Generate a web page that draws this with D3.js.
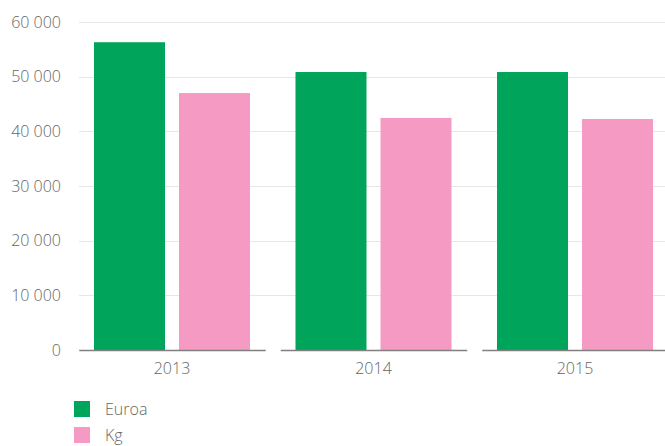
<!DOCTYPE html>
<html><head><meta charset="utf-8">
<script src="https://cdn.jsdelivr.net/npm/d3@7"></script>
<style>body{margin:0;background:#fff}svg{display:block}text{font-family:"Open Sans",sans-serif;font-weight:300;fill:#666}</style>
</head><body>
<script>
const categories = ["2013","2014","2015"];
const seriesNames = ["Euroa","Kg"];
const euroa = [56300, 50850, 50850];
const kg = [47000, 42450, 42250];
const yTicks = [0,10000,20000,30000,40000,50000,60000];
const colors = ["#00a45a","#f49ac3"];

const W=665,H=446;
const svg=d3.select("body").append("svg").attr("width",W).attr("height",H);
const y=d3.scaleLinear().domain([0,60000]).range([350,22]);
const x0=d3.scaleBand().domain(categories).range([71.25,675.75]).padding(0);
const x1=d3.scaleBand().domain(seriesNames).range([22.75,178.75]).paddingInner(0.165).paddingOuter(0);
const fmt=v=>d3.format(",")(v).replace(/,/g," ");

// grid
svg.append("g").selectAll("line").data(yTicks.filter(t=>t>0)).join("line")
  .attr("x1",79).attr("x2",W).attr("y1",d=>Math.round(y(d))+0.5).attr("y2",d=>Math.round(y(d))+0.5)
  .attr("stroke","#e6e6e6").attr("stroke-width",1);
svg.append("g").selectAll("text").data(yTicks).join("text")
  .attr("x",61).attr("y",d=>y(d)).attr("dy","0.35em").attr("text-anchor","end")
  .attr("font-size",16).text(fmt);

// bars
const data=categories.map((c,i)=>({c,vals:[euroa[i],kg[i]]}));
const g=svg.append("g").selectAll("g").data(data).join("g").attr("transform",d=>`translate(${x0(d.c)},0)`);
g.selectAll("rect").data(d=>d.vals.map((v,j)=>({name:seriesNames[j],v,j}))).join("rect")
  .attr("x",d=>x1(d.name)).attr("width",x1.bandwidth())
  .attr("y",d=>y(d.v)).attr("height",d=>y(0)-y(d.v)).attr("fill",d=>colors[d.j]);

// baseline segments
svg.append("g").selectAll("line").data(categories).join("line")
  .attr("x1",d=>x0(d)+8).attr("x2",d=>x0(d)+x0.bandwidth()-7)
  .attr("y1",350.5).attr("y2",350.5).attr("stroke","#808080").attr("stroke-width",1.5);
svg.append("g").selectAll("text").data(categories).join("text")
  .attr("x",d=>x0(d)+x0.bandwidth()/2).attr("y",374).attr("text-anchor","middle")
  .attr("font-size",16).text(d=>d);

// legend
const lg=svg.append("g").selectAll("g").data(seriesNames).join("g")
  .attr("transform",(d,i)=>`translate(74,${401+i*26})`);
lg.append("rect").attr("width",16).attr("height",16).attr("fill",(d,i)=>colors[i]);
lg.append("text").attr("x",31).attr("y",8).attr("dy","0.35em").attr("font-size",16).text(d=>d);
</script>
</body></html>
